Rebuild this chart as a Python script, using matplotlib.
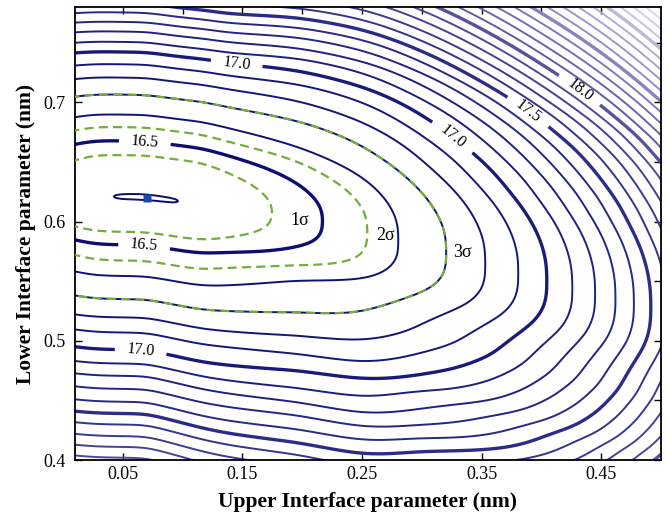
import numpy as np
import matplotlib
matplotlib.use("Agg")
import matplotlib.pyplot as plt
from matplotlib.colors import LinearSegmentedColormap

plt.rcParams['font.family'] = ['Liberation Serif', 'DejaVu Serif']
plt.rcParams['lines.scale_dashes'] = False

# ---------------- values ----------------
# lowest value of the surface (just under the innermost 16.4 contour) and best-fit point
z_floor = 16.3997
best_x = [0.07]
best_y = [0.62]

# rise of the valley floor along x (x of contour tips -> level above the floor)
q_x = [0.0, 0.01, 0.02, 0.03, 0.042, 0.07, 0.103, 0.115, 0.13, 0.175, 0.218, 0.264,
       0.281, 0.322, 0.354, 0.382, 0.405, 0.427, 0.446, 0.463, 0.478, 0.493, 0.505, 0.53]
q_val = [0.026, 0.016, 0.007, 0.0022, 0.00165, 0.0015, 0.00165, 0.0045, 0.016, 0.057,
         0.102, 0.161, 0.202, 0.302, 0.402, 0.502, 0.602, 0.702, 0.802, 0.902, 1.002,
         1.102, 1.2, 1.42]

# valley centre line, stretch of each side, flat-floor half widths
v_x = [0.0, 0.07, 0.1, 0.14, 0.2, 0.25, 0.3, 0.35, 0.4, 0.45, 0.5, 0.53]
v_y = [0.621, 0.62, 0.616, 0.611, 0.604, 0.594, 0.581, 0.567, 0.553, 0.54, 0.528, 0.522]
k_up = [1.0, 1.0, 1.0, 1.0, 1.04, 1.07, 1.09, 1.10, 1.11, 1.12, 1.13, 1.13]
w_up = [0.0, 0.0, 0.0, 0.002, 0.004, 0.005, 0.006, 0.006, 0.005, 0.004, 0.003, 0.003]
k_lo = [1.0, 1.0, 1.02, 1.05, 1.06, 1.07, 1.05, 1.05, 1.07, 1.09, 1.10, 1.10]
w_lo = [0.0, 0.0, 0.0, 0.001, 0.006, 0.011, 0.010, 0.011, 0.010, 0.009, 0.008, 0.008]

# level rise versus distance above / below the valley (read on the left edge)
pu_s = [0.0, 0.005, 0.01, 0.015, 0.02, 0.025, 0.03, 0.037, 0.044, 0.055, 0.067, 0.084,
        0.099, 0.110, 0.121, 0.129, 0.138, 0.146, 0.154, 0.17, 0.19, 0.21, 0.23, 0.26, 0.40]
pu_v = [0.0, 0.0011, 0.0044, 0.0099, 0.0176, 0.0275, 0.0396, 0.060, 0.086, 0.134, 0.186,
        0.286, 0.386, 0.486, 0.586, 0.686, 0.786, 0.886, 0.986, 1.19, 1.45, 1.72, 2.0,
        2.42, 4.5]
pl_s = [0.0, 0.005, 0.01, 0.015, 0.02, 0.025, 0.03, 0.036, 0.048, 0.063, 0.083, 0.099,
        0.111, 0.126, 0.138, 0.148, 0.159, 0.170, 0.180, 0.189, 0.199, 0.208, 0.217,
        0.25, 0.40]
pl_v = [0.0, 0.0017, 0.0066, 0.0149, 0.0264, 0.0413, 0.0594, 0.086, 0.134, 0.186, 0.286,
        0.386, 0.486, 0.586, 0.686, 0.786, 0.886, 0.986, 1.086, 1.186, 1.286, 1.386,
        1.486, 1.85, 3.5]

# contour levels, confidence levels and labels
level_start, level_stop, level_step = 16.4, 19.6, 0.1
sigma_levels = [16.455, 16.55, 16.70]
sigma_names = ['1σ', '2σ', '3σ']
sigma_pos_x = [0.198, 0.270, 0.334]
sigma_pos_y = [0.601, 0.588, 0.574]
label_levels = [16.5, 17.0, 17.5, 18.0]
label_pos = [(0.068, 0.661), (0.068, 0.581), (0.145, 0.731), (0.065, 0.492),
             (0.325, 0.670), (0.388, 0.691), (0.430, 0.708)]

x_ticks = [0.05, 0.15, 0.25, 0.35, 0.45]
x_tick_labels = ['0.05', '0.15', '0.25', '0.35', '0.45']
y_ticks = [0.4, 0.5, 0.6, 0.7]
y_tick_labels = ['0.4', '0.5', '0.6', '0.7']
x_label = 'Upper Interface parameter (nm)'
y_label = 'Lower Interface parameter (nm)'

# ---------------- surface built from the read values ----------------
xs = np.linspace(-0.06, 0.58, 641)
ys = np.linspace(0.36, 0.82, 461)
X, Y = np.meshgrid(xs, ys)
y0 = np.interp(X, v_x, v_y)
S = Y - y0
su = np.clip(S - np.interp(X, v_x, w_up), 0, None) / np.interp(X, v_x, k_up)
sl = np.clip(-S - np.interp(X, v_x, w_lo), 0, None) / np.interp(X, v_x, k_lo)
Z = (np.interp(X, q_x, q_val)
     + np.interp(su, pu_s, pu_v) + np.interp(sl, pl_s, pl_v))


def gauss_smooth(arr, sigma_cells, axis):
    r = int(3 * sigma_cells)
    ker = np.exp(-0.5 * (np.arange(-r, r + 1) / sigma_cells) ** 2)
    ker /= ker.sum()
    pad = [(0, 0), (0, 0)]
    pad[axis] = (r, r)
    ap = np.pad(arr, pad, mode='edge')
    return np.apply_along_axis(lambda v: np.convolve(v, ker, mode='valid'), axis, ap)


# light smoothing near the minimum, stronger smoothing further right (grid step 0.001)
Z_fine = gauss_smooth(Z, 8, axis=1)
Z_soft = gauss_smooth(Z, 18, axis=1)
blend = np.clip((X - 0.12) / 0.1, 0, 1)
Z = (1 - blend) * Z_fine + blend * Z_soft
Z = gauss_smooth(Z, 3, axis=0)
Z = Z - Z.min() + z_floor

levels = np.round(np.arange(level_start, level_stop + 1e-9, level_step), 1)

cmap = LinearSegmentedColormap.from_list(
    'navy_fade',
    [(0.0, '#0c0c6e'), (0.6 / 3.2, '#1a1a7a'), (1.1 / 3.2, '#2c2c88'),
     (1.6 / 3.2, '#52529f'), (2.1 / 3.2, '#8585bd'), (2.6 / 3.2, '#b9b9da'),
     (3.0 / 3.2, '#e4e4f1'), (1.0, '#f4f4fa')])


def level_color(lv):
    return cmap((lv - level_start) / (level_stop - level_start))


is_thick = [abs(lv * 2 - round(lv * 2)) < 1e-6 for lv in levels]
thin_levels = [lv for lv, t in zip(levels, is_thick) if not t]
thick_levels = [lv for lv, t in zip(levels, is_thick) if t]
labelled = [lv for lv in thick_levels if any(abs(lv - l) < 1e-6 for l in label_levels)]
thick_other = [lv for lv in thick_levels if lv not in labelled]

fig = plt.figure(figsize=(6.7, 5.2), dpi=100)
ax = fig.add_axes([75 / 670, 60 / 520, 586 / 670, 453 / 520])

ax.contour(X, Y, Z, levels=thin_levels, colors=[level_color(l) for l in thin_levels],
           linewidths=1.4, zorder=2)
ax.contour(X, Y, Z, levels=thick_other, colors=[level_color(l) for l in thick_other],
           linewidths=2.4, zorder=2)
cs_lab = ax.contour(X, Y, Z, levels=labelled, colors=[level_color(l) for l in labelled],
                    linewidths=2.4, zorder=2)
ax.contour(X, Y, Z, levels=sigma_levels, colors='#73ad3a', linewidths=1.6,
           linestyles=[(0, (6.5, 3.8))], zorder=3)

cs_lab.clabel(manual=label_pos, fmt='%.1f', inline=True,
              inline_spacing=6, fontsize=11.5, colors='black')

for name, tx, ty in zip(sigma_names, sigma_pos_x, sigma_pos_y):
    ax.text(tx, ty, name, ha='center', va='center', fontsize=13, zorder=5)

ax.plot(best_x, best_y, marker='s', color='#1848a8', ms=6, mec='none',
        linestyle='none', zorder=6)

ax.set_xlim(0.01, 0.5)
ax.set_ylim(0.4, 0.78)
ax.set_xticks(x_ticks)
ax.set_xticklabels(x_tick_labels)
ax.set_xticks([0.1, 0.2, 0.3, 0.4], minor=True)
ax.set_yticks(y_ticks)
ax.set_yticklabels(y_tick_labels)
ax.set_yticks([0.45, 0.55, 0.65, 0.75], minor=True)
ax.tick_params(which='both', direction='in', top=True, right=True,
               length=5, width=1.0, labelsize=13)
ax.tick_params(which='minor', bottom=False, left=False)
ax.tick_params(axis='x', pad=4.5)
ax.tick_params(axis='y', pad=7)
for sp in ax.spines.values():
    sp.set_linewidth(1.3)
    sp.set_color('black')

ax.set_xlabel(x_label, fontsize=15.5, fontweight='bold', labelpad=6)
ax.set_ylabel(y_label, fontsize=15.5, fontweight='bold', labelpad=5)

fig.savefig('out.png', dpi=100)
